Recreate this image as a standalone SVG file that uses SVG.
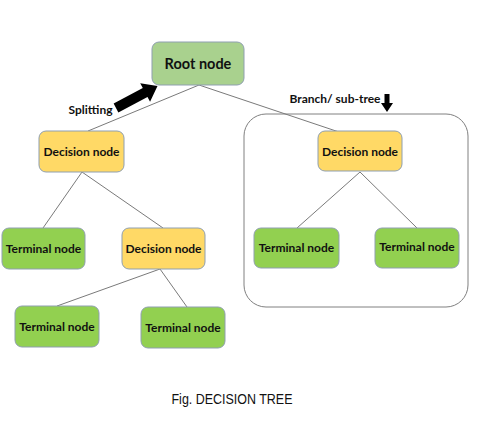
<svg xmlns="http://www.w3.org/2000/svg" width="484" height="438" viewBox="0 0 484 438">
<style>
  .box { stroke: #8f9fb0; stroke-width: 1; }
  .root { fill: #a9d18e; }
  .dec { fill: #ffd966; }
  .term { fill: #92d050; }
  .lbl { font-family: Lato, "Liberation Sans", sans-serif; font-weight: bold; fill: #111; text-anchor: middle; }
  .edge { stroke: #7a7a7a; stroke-width: 1; fill: none; }
</style>
<rect width="484" height="438" fill="#ffffff"/>
<g id="subtree-frame">
  <rect x="244" y="114" width="224" height="193" rx="22" ry="22" fill="none" stroke="#808080" stroke-width="1"/>
</g>
<g id="connectors">
  <line class="edge" x1="199" y1="85" x2="88" y2="131"/>
  <line class="edge" x1="199" y1="85" x2="339" y2="132"/>
  <line class="edge" x1="82" y1="172" x2="43" y2="228"/>
  <line class="edge" x1="82" y1="172" x2="163" y2="228"/>
  <line class="edge" x1="160" y1="269" x2="57" y2="306"/>
  <line class="edge" x1="160" y1="269" x2="187" y2="307"/>
  <line class="edge" x1="360" y1="172" x2="297" y2="228"/>
  <line class="edge" x1="360" y1="172" x2="417" y2="228"/>
</g>
<g id="root">
  <rect class="box root" x="152" y="42" width="92" height="43" rx="7"/>
  <text class="lbl" x="198" y="69" font-size="14.5">Root node</text>
</g>
<g id="decision-left">
  <rect class="box dec" x="39" y="131" width="85" height="41" rx="7"/>
  <text class="lbl" x="81.5" y="155.5" font-size="12">Decision node</text>
</g>
<g id="terminal-left">
  <rect class="box term" x="2" y="228" width="83" height="41" rx="7"/>
  <text class="lbl" x="43.5" y="252.5" font-size="12">Terminal node</text>
</g>
<g id="decision-mid">
  <rect class="box dec" x="122" y="228" width="83" height="41" rx="7"/>
  <text class="lbl" x="163.5" y="252.5" font-size="12">Decision node</text>
</g>
<g id="terminal-bottom-left">
  <rect class="box term" x="15" y="306" width="84" height="41" rx="7"/>
  <text class="lbl" x="57" y="330.5" font-size="12">Terminal node</text>
</g>
<g id="terminal-bottom-right">
  <rect class="box term" x="141" y="307" width="84" height="41" rx="7"/>
  <text class="lbl" x="183" y="331.5" font-size="12">Terminal node</text>
</g>
<g id="decision-right">
  <rect class="box dec" x="318" y="131" width="84" height="40" rx="7"/>
  <text class="lbl" x="360" y="155.5" font-size="12">Decision node</text>
</g>
<g id="terminal-right-a">
  <rect class="box term" x="254" y="228" width="85" height="40" rx="7"/>
  <text class="lbl" x="296.5" y="251.5" font-size="12">Terminal node</text>
</g>
<g id="terminal-right-b">
  <rect class="box term" x="375" y="228" width="84" height="40" rx="7"/>
  <text class="lbl" x="417" y="250.5" font-size="12">Terminal node</text>
</g>
<g id="splitting">
  <text class="lbl" x="90.5" y="114" font-size="12">Splitting</text>
  <polygon points="0,-5 33,-5 33,-10.5 47,0 33,10.5 33,5 0,5" fill="#000" transform="translate(116,108) rotate(-28)"/>
</g>
<g id="branch">
  <text class="lbl" x="335" y="103" font-size="12">Branch/ sub-tree</text>
  <polygon points="384.5,94 389.5,94 389.5,103 393,103 387,112 381,103 384.5,103" fill="#000"/>
</g>
<g id="caption">
  <text x="232" y="404" font-family="'Liberation Sans', Arial, sans-serif" font-size="14" fill="#111" text-anchor="middle" textLength="121" lengthAdjust="spacingAndGlyphs">Fig. DECISION TREE</text>
</g>
</svg>
